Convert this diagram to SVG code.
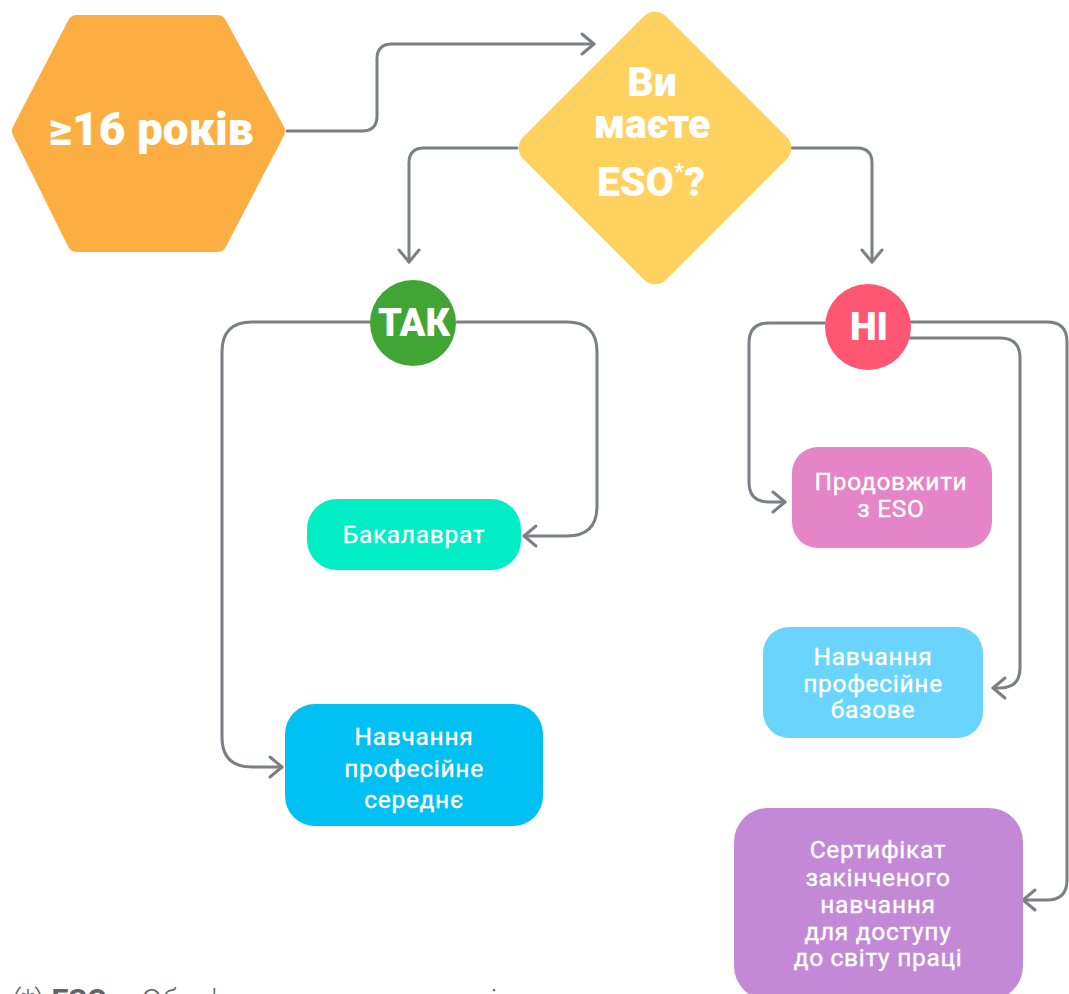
<svg xmlns="http://www.w3.org/2000/svg" width="1069" height="994" viewBox="0 0 1069 994">
<style>
.c{fill:none;stroke:#7C7F83;stroke-width:3;stroke-linecap:round;stroke-linejoin:round}
.big{font-family:Roboto,"Liberation Sans",sans-serif;font-weight:900;fill:#fff;text-anchor:middle}
.lbl{font-family:Roboto,"Liberation Sans",sans-serif;font-weight:400;fill:#fff;text-anchor:middle;font-size:24.5px;letter-spacing:0.7px;stroke:#fff;stroke-width:0.35px}
.note{font-family:Roboto,"Liberation Sans",sans-serif;fill:#5f6266;font-size:30px;font-weight:300}
</style>
<defs>
<marker id="ah" markerUnits="userSpaceOnUse" markerWidth="18" markerHeight="26" viewBox="0 0 18 26" refX="15" refY="13" orient="auto">
<path d="M3,3 L15,13 L3,23" fill="none" stroke="#7C7F83" stroke-width="3" stroke-linecap="round" stroke-linejoin="round"/>
</marker>
</defs>
<rect width="1069" height="994" fill="#fff"/>
<g id="connectors">
<path class="c" marker-end="url(#ah)" d="M287,131 H362 Q377,131 377,116 V59 Q377,44 392,44 H594"/>
<path class="c" marker-end="url(#ah)" d="M517,148 H424 Q409,148 409,163 V262"/>
<path class="c" marker-end="url(#ah)" d="M792,148 H857 Q872,148 872,163 V262"/>
<path class="c" marker-end="url(#ah)" d="M370,322 H252 Q222,322 222,352 V737 Q222,767 252,767 H282"/>
<path class="c" marker-end="url(#ah)" d="M457,322 H567 Q597,322 597,352 V506 Q597,536 567,536 H524"/>
<path class="c" marker-end="url(#ah)" d="M825,323 H769 Q749,323 749,343 V482 Q749,502 769,502 H785"/>
<path class="c" marker-end="url(#ah)" d="M909,338 H1000 Q1020,338 1020,358 V668 Q1020,688 1000,688 H993"/>
<path class="c" marker-end="url(#ah)" d="M911,322 H1047 Q1067,322 1067,342 V880 Q1067,900 1047,900 H1023"/>
</g>
<g id="n-age">
<polygon points="22,131 77,25 217,25 275,131 217,242 77,242" fill="#FDAE43" stroke="#FDAE43" stroke-width="20" stroke-linejoin="round"/>
<text class="big" x="151" y="145" font-size="46">≥16 років</text>
</g>
<g id="n-question">
<rect x="-101" y="-101" width="202" height="202" rx="16" fill="#FFD15F" transform="translate(655,148) rotate(45)"/>
<text class="big" font-size="41"><tspan x="652" y="96">Ви</tspan><tspan x="652" y="138">маєте</tspan><tspan x="651" y="196">ESO<tspan font-size="22" dy="-17">*</tspan><tspan dy="17">?</tspan></tspan></text>
</g>
<g id="n-yes">
<circle cx="413" cy="323" r="43" fill="#40A535"/>
<text class="big" x="414" y="336" font-size="38">ТАК</text>
</g>
<g id="n-no">
<circle cx="868" cy="327" r="43" fill="#FF5773"/>
<text class="big" x="869" y="340" font-size="38">НІ</text>
</g>
<g id="n-bach">
<rect x="307" y="499" width="214" height="71" rx="30" fill="#00EDC6"/>
<text class="lbl" x="414" y="543">Бакалаврат</text>
</g>
<g id="n-voc-mid">
<rect x="285" y="704" width="258" height="122" rx="30" fill="#00C0F4"/>
<text class="lbl"><tspan x="414" y="745">Навчання</tspan><tspan x="414" y="777">професійне</tspan><tspan x="414" y="808">середнє</tspan></text>
</g>
<g id="n-eso">
<rect x="792" y="447" width="200" height="101" rx="26" fill="#E584C7"/>
<text class="lbl"><tspan x="891" y="490">Продовжити</tspan><tspan x="891" y="517">з ESO</tspan></text>
</g>
<g id="n-voc-basic">
<rect x="763" y="627" width="220" height="111" rx="26" fill="#69D5FC"/>
<text class="lbl"><tspan x="873" y="665">Навчання</tspan><tspan x="873" y="692">професійне</tspan><tspan x="873" y="718">базове</tspan></text>
</g>
<g id="n-cert">
<rect x="734" y="808" width="289" height="192" rx="34" fill="#C489D6"/>
<text class="lbl"><tspan x="878" y="858">Сертифікат</tspan><tspan x="878" y="886">закінченого</tspan><tspan x="878" y="913">навчання</tspan><tspan x="878" y="940">для доступу</tspan><tspan x="878" y="966">до світу праці</tspan></text>
</g>
<text class="note" x="12" y="1010">(*) <tspan font-weight="700">ESO</tspan> – Обов'язкова середня освіта</text>
</svg>
